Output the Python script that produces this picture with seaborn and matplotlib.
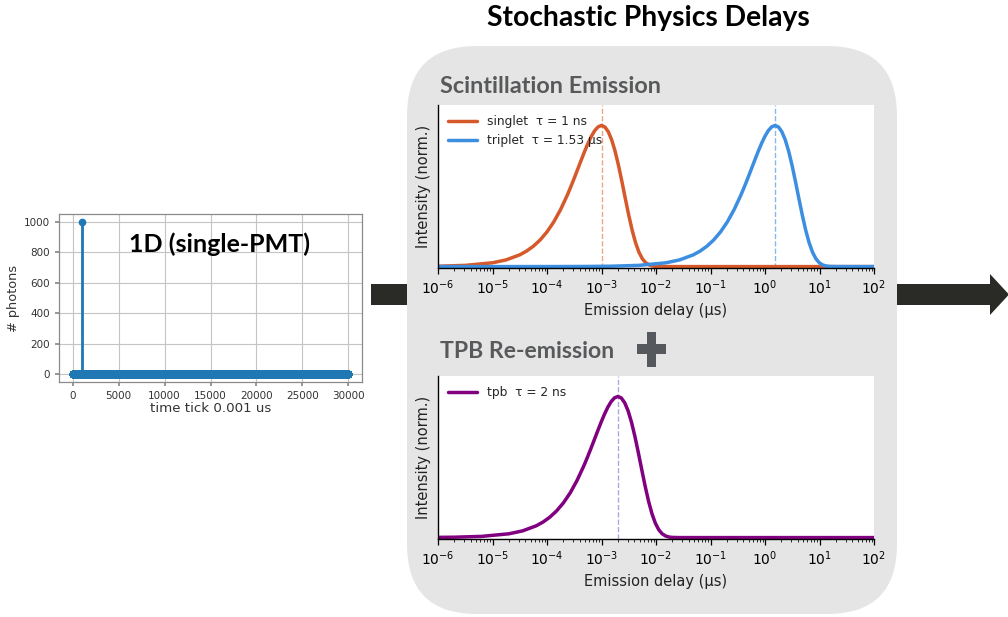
import numpy as np
import pandas as pd
import matplotlib
matplotlib.use('Agg')
import matplotlib.pyplot as plt
from matplotlib.patches import FancyBboxPatch, Rectangle, Polygon
from matplotlib.ticker import LogLocator, NullFormatter
import seaborn as sns

# ── Data ──────────────────────────────────────────────────────
# 1D single-PMT trace: one spike, zero everywhere else
tick_max = 30000
spike_tick = 1000
spike_photons = 1000

# normalised emission-delay profile
# (offset in decades from the decay constant -> intensity)
profile_offset = [-8, -6, -5, -4, -3.5, -3, -2.5, -2, -1.75, -1.5, -1.375, -1.25,
                  -1.125, -1, -0.875, -0.75, -0.625, -0.5625, -0.5, -0.4375, -0.375,
                  -0.3125, -0.25, -0.1875, -0.125, -0.0625, 0, 0.0625, 0.125, 0.1875,
                  0.25, 0.3125, 0.375, 0.4375, 0.5, 0.5625, 0.625, 0.6875, 0.75,
                  0.8125, 0.875, 0.9375, 1.0, 1.125, 1.5, 8]
profile_value = [0.0, 0.000003, 0.00003, 0.0003, 0.0009, 0.0027, 0.0086, 0.0269, 0.0475,
                 0.0833, 0.1099, 0.1445, 0.1891, 0.2460, 0.3172, 0.4047, 0.5085, 0.5661,
                 0.6266, 0.6890, 0.7519, 0.8134, 0.8711, 0.9221, 0.9630, 0.9902, 1.0,
                 0.9892, 0.9553, 0.8975, 0.8166, 0.7161, 0.6017, 0.4815, 0.3640, 0.2575,
                 0.1690, 0.1016, 0.0552, 0.0267, 0.0113, 0.0041, 0.0012, 0.0001, 0.0, 0.0]

scint_labels = ['singlet  τ = 1 ns', 'triplet  τ = 1.53 µs']
scint_tau_us = [0.001, 1.53]
tpb_labels = ['tpb  τ = 2 ns']
tpb_tau_us = [0.002]

# ── Theme ─────────────────────────────────────────────────────
sns.set_theme(style='ticks')
plt.rcParams['font.family'] = 'DejaVu Sans'
TITLE_FONT = ['Lato', 'DejaVu Sans']
DARK = '#2a2a26'
BOX_GREY = '#e5e5e5'
SECTION_GREY = '#58595b'
C_SINGLET, C_TRIPLET, C_TPB = '#d5592a', '#3b8ee0', '#800080'
VLINE_COLORS = {'singlet  τ = 1 ns': '#eba585', 'triplet  τ = 1.53 µs': '#86b8ec',
                'tpb  τ = 2 ns': '#aea6e3'}


def curves(labels, taus):
    rows = []
    for lab, tau in zip(labels, taus):
        for off, val in zip(profile_offset, profile_value):
            rows.append((lab, tau * 10 ** off, val))
    return pd.DataFrame(rows, columns=['series', 'delay', 'intensity'])


W, H = 1008, 617
fig = plt.figure(figsize=(W / 100, H / 100), dpi=100)


def box(l, t, r, b):
    return [l / W, 1 - b / H, (r - l) / W, (b - t) / H]


# background layer in pixel coordinates (y down)
bg = fig.add_axes([0, 0, 1, 1])
bg.set_xlim(0, W); bg.set_ylim(H, 0); bg.axis('off'); bg.set_zorder(0)
bg.add_patch(Rectangle((371, 284), 60, 21, fc=DARK, ec='none', zorder=1))
bg.add_patch(FancyBboxPatch((407, 46), 490, 568, boxstyle='round,pad=0,rounding_size=70',
                            fc=BOX_GREY, ec='none', zorder=2))
bg.add_patch(Polygon([(896, 284), (990, 284), (990, 274), (1009, 294.5), (990, 315),
                      (990, 305), (896, 305)], closed=True, fc=DARK, ec='none', zorder=1))
# plus sign
bg.add_patch(Rectangle((646.7, 331.7), 9.5, 35, fc='#55585d', ec='none', zorder=3))
bg.add_patch(Rectangle((636.7, 344.3), 29.5, 10, fc='#55585d', ec='none', zorder=3))

bg.text(648, 26, 'Stochastic Physics Delays', ha='center', va='baseline', fontsize=20.3,
        fontweight='bold', family=TITLE_FONT, color='black')
bg.text(440, 93, 'Scintillation Emission', ha='left', va='baseline', fontsize=16.9,
        fontweight='bold', family=TITLE_FONT, color=SECTION_GREY, zorder=3)
bg.text(440, 358, 'TPB Re-emission', ha='left', va='baseline', fontsize=16.6,
        fontweight='bold', family=TITLE_FONT, color=SECTION_GREY, zorder=3)

# ── Left: 1D single-PMT stem plot ─────────────────────────────
ax0 = fig.add_axes(box(59, 214, 362, 382))
ax0.set_zorder(3)
ticks = np.arange(tick_max + 1)
photons = np.zeros(tick_max + 1)
photons[spike_tick] = spike_photons
ml, sl, bl = ax0.stem(ticks, photons, basefmt=' ')
ml.set_markersize(4.5); ml.set_color('#1f77b4')
sl.set_linewidth(2); sl.set_color('#1f77b4')
ax0.set_xlim(-1500, 31500); ax0.set_ylim(-50, 1050)
ax0.set_xticks(range(0, 30001, 5000)); ax0.set_yticks(range(0, 1001, 200))
ax0.grid(True, color='#c4c4c4', lw=0.8)
ax0.set_axisbelow(True)
for s in ax0.spines.values():
    s.set_color('#8a8a8a'); s.set_linewidth(0.9)
ax0.tick_params(labelsize=7.5, colors='#8a8a8a', labelcolor='#333333', length=3)
ax0.set_xlabel('time tick 0.001 us', fontsize=9.6, color='#333333', labelpad=1)
ax0.set_ylabel('# photons', fontsize=9.3, color='#333333', labelpad=3)
# label lives on ax0 so it is drawn above the white axes, positioned in page pixels
ax0.text(129, 252, '1D (single-PMT)', transform=bg.transData, ha='left', va='baseline',
         fontsize=18, fontweight='bold', family=TITLE_FONT, color='black', zorder=5)


# ── Right: emission delay panels ──────────────────────────────
def delay_panel(ax, data, labels, taus, colors):
    ax.set_zorder(3)
    ax.set_facecolor('white')
    ax.set_xscale('log')
    sns.lineplot(data=data, x='delay', y='intensity', hue='series', hue_order=labels,
                 palette=colors, linewidth=2.5, estimator=None, sort=True, ax=ax)
    for lab, tau in zip(labels, taus):
        ax.axvline(tau, ls='--', lw=1, color=VLINE_COLORS[lab], zorder=1)
    ax.set_xlim(1e-6, 1e2); ax.set_ylim(-0.01, 1.145)
    ax.xaxis.set_major_locator(LogLocator(base=10, numticks=20))
    ax.xaxis.set_minor_locator(LogLocator(base=10, subs=np.arange(2, 10), numticks=100))
    ax.xaxis.set_minor_formatter(NullFormatter())
    ax.set_yticks([])
    ax.tick_params(axis='x', labelsize=10, colors='black', length=4, width=0.9)
    ax.tick_params(axis='x', which='minor', length=2.2, width=0.7)
    ax.set_xlabel('Emission delay (µs)', fontsize=10.5, color='#222222')
    ax.set_ylabel('Intensity (norm.)', fontsize=10.5, color='#222222', labelpad=5)
    sns.despine(ax=ax)
    for s in ('left', 'bottom'):
        ax.spines[s].set_color('black'); ax.spines[s].set_linewidth(1)
    ax.legend(loc='upper left', frameon=False, fontsize=8.8, handlelength=2.4,
              borderaxespad=0.4)


ax1 = fig.add_axes(box(438, 105, 874, 268))
delay_panel(ax1, curves(scint_labels, scint_tau_us), scint_labels, scint_tau_us,
            [C_SINGLET, C_TRIPLET])

ax2 = fig.add_axes(box(438, 376, 874, 539))
delay_panel(ax2, curves(tpb_labels, tpb_tau_us), tpb_labels, tpb_tau_us, [C_TPB])

fig.savefig('out.png', dpi=100)
